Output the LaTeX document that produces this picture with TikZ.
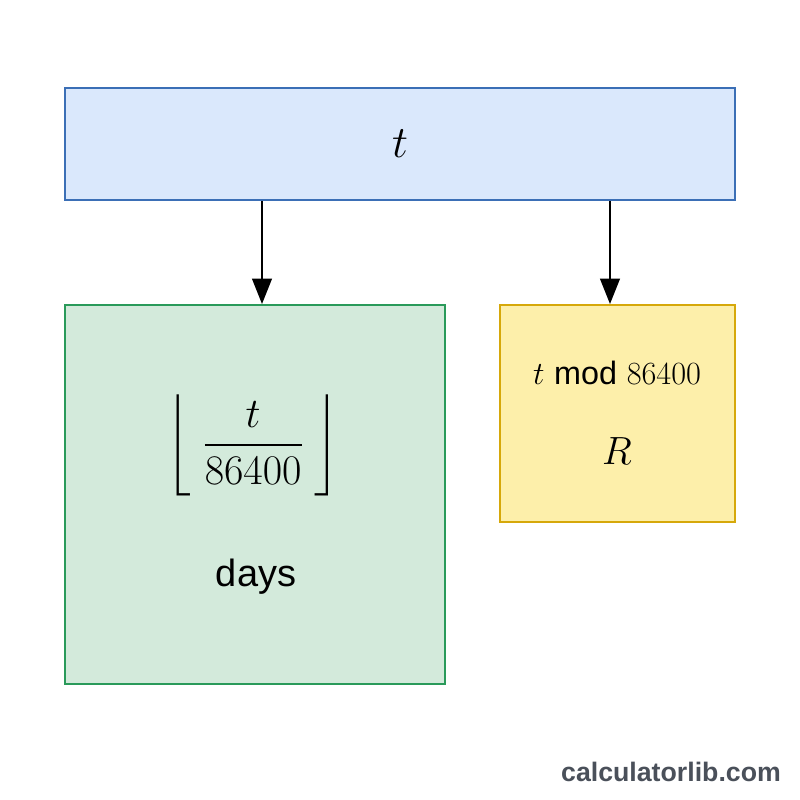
\RequirePackage{fix-cm}
\documentclass[tikz,border=0pt]{standalone}
\usepackage{amsmath, amssymb}
\usepackage{fontspec}
\setsansfont{Liberation Sans}
\usetikzlibrary{arrows.meta,positioning,calc}
\definecolor{topfill}{HTML}{DAE8FC}
\definecolor{topline}{HTML}{3B6FB6}
\definecolor{dayfill}{HTML}{D3EADB}
\definecolor{dayline}{HTML}{2A9A5A}
\definecolor{remfill}{HTML}{FDEFAA}
\definecolor{remline}{HTML}{D6A80A}
\definecolor{markgray}{HTML}{4A505A}

\begin{document}
\begin{tikzpicture}
			\tikzset{box/.style={draw, line width=1.4pt, inner sep=0pt},
				arr/.style={-{Triangle[length=18pt,width=14pt]}, line width=1.4pt}}
			\useasboundingbox[fill=white] (0,0) rectangle (20,-20);
			\node[box, fill=topfill, draw=topline, minimum width=16.75cm, minimum height=2.8cm] (time) at (10,-3.6) {\fontsize{32}{38}\selectfont $t$};
			\node[box, fill=dayfill, draw=dayline, minimum width=9.5cm, minimum height=9.475cm] (days) at (6.375,-12.3625) {};
			\node[box, fill=remfill, draw=remline, minimum width=5.875cm, minimum height=5.425cm] (rem) at (15.4375,-10.3375) {};
			\node (frac) at (6.33,-11.13) {\fontsize{30}{36}\selectfont $\left\lfloor\;\dfrac{t}{86400}\;\right\rfloor$};
			\node (dayslbl) at (6.4,-14.425) {\fontsize{27}{32}\selectfont\sffamily days};
			\node (modlbl) at (15.425,-9.325) {\fontsize{23}{27}\selectfont $t$ \textsf{mod} $86400$};
			\node (rlbl) at (15.425,-11.275) {\fontsize{28}{34}\selectfont $R$};
			\draw[arr] ([xshift=0.175cm]time.south -| days.north) -- ([xshift=0.175cm]days.north);
			\draw[arr] ([xshift=-0.1875cm]time.south -| rem.north) -- ([xshift=-0.1875cm]rem.north);
			\node[text=markgray, font=\sffamily\bfseries\fontsize{19}{23}\selectfont] (mark) at (16.775,-19.3) {calculatorlib.com};
		\end{tikzpicture}
\end{document}
